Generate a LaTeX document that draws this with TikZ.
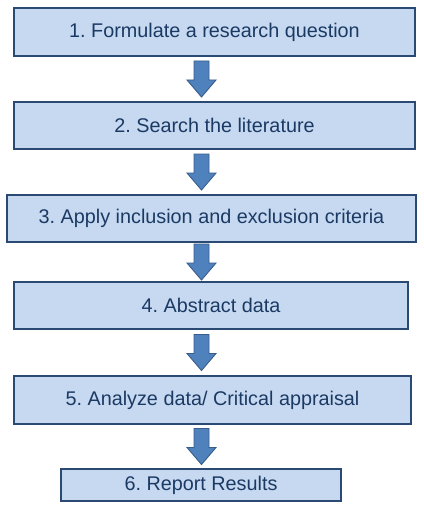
\documentclass[tikz,border=0pt]{standalone}
\usepackage{fontspec}
\setmainfont{Liberation Sans}
\usepackage{xcolor}
\usepackage{tikz}
\usetikzlibrary{calc,positioning}
\definecolor{StepFill}{HTML}{C6D9F1}
\definecolor{StepLine}{HTML}{2A4A74}
\definecolor{StepInk}{HTML}{1B3A63}
\definecolor{FlowBlue}{HTML}{4F81BD}
\definecolor{FlowLine}{HTML}{385D8A}
\frenchspacing

\begin{document}
\begin{tikzpicture}[x=1pt,y=-1pt,
    stepbox/.style={draw=StepLine,line width=1.8pt,fill=StepFill,text=StepInk,
      inner sep=0pt,minimum height=47pt,
      font=\fontsize{19.8}{23}\selectfont},
    flowarrow/.style={draw=FlowLine,line width=0.9pt,fill=FlowBlue,line join=miter}]
  \useasboundingbox (0,0) rectangle (423,508);
  \coordinate (ax) at (201.5,0);
  \node[stepbox,minimum width=401pt,minimum height=48pt] (b1) at (214.5,32) {1. Formulate a research question};
  \node[stepbox,minimum width=401pt] (b2) at (214.5,125.5) {2. Search the literature};
  \node[stepbox,minimum width=409pt] (b3) at (211.5,218.5) {3. Apply inclusion and exclusion criteria};
  \node[stepbox,minimum width=394pt] (b4) at (211,305.5) {4. Abstract data};
  \node[stepbox,minimum width=397pt,minimum height=48pt] (b5) at (212.5,400) {5. Analyze data/ Critical appraisal};
  \node[stepbox,minimum width=280pt,minimum height=32pt] (b6) at (201,485) {6. Report Results};
  % arrows between the steps
  \foreach \i/\j in {1/2,2/3,3/4,4/5,5/6}{
    \coordinate (g\i) at ($(b\i.south)!0.5!(b\j.north)$);
    \coordinate (m\i) at (g\i -| ax);
    \draw[flowarrow,shift={(m\i)}] (-7.5,-18) -- (7.5,-18) -- (7.5,1) -- (14.5,1)
      -- (0,18) -- (-14.5,1) -- (-7.5,1) -- cycle;
  }
\end{tikzpicture}
\end{document}
